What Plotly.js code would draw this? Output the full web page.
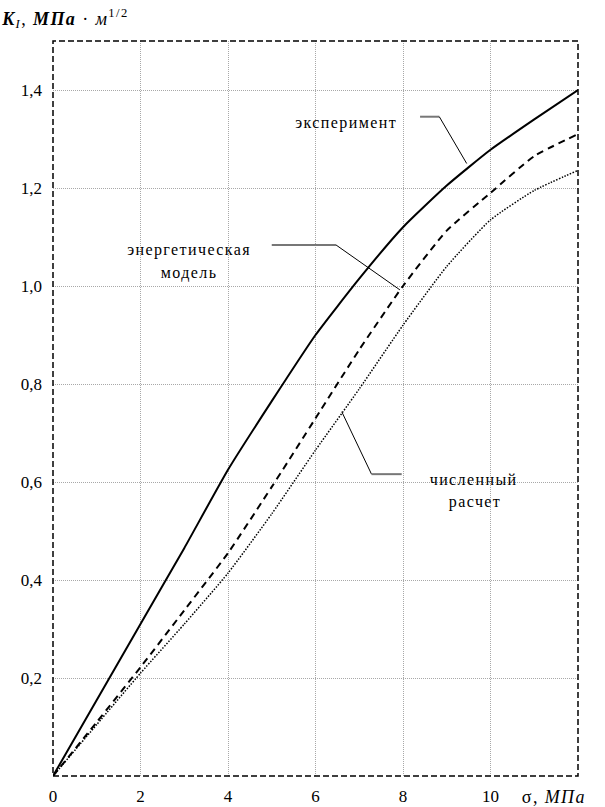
<!DOCTYPE html>
<html>
<head>
<meta charset="utf-8">
<script src="https://cdn.plot.ly/plotly-3.0.1.min.js"></script>
<style>
html,body{margin:0;padding:0;background:#fff;}
#chart{width:605px;height:807px;}
#chart .annotation-text{letter-spacing:1.4px;}
</style>
</head>
<body>
<div id="chart"></div>
<script>
// stress σ, MPa
const sigma = [0, 1, 2, 3, 4, 5, 6, 7, 8, 9, 10, 11, 12];
// K_I, MPa·m^1/2
const experiment = [0, 0.155, 0.31, 0.465, 0.625, 0.765, 0.90, 1.015, 1.12, 1.205, 1.278, 1.34, 1.40];
const energyModel = [0, 0.11, 0.222, 0.338, 0.455, 0.59, 0.73, 0.87, 1.0, 1.113, 1.19, 1.265, 1.31];
const numerical = [0, 0.105, 0.21, 0.31, 0.414, 0.535, 0.665, 0.79, 0.92, 1.04, 1.135, 1.195, 1.236];

const xTickVals = [0, 2, 4, 6, 8, 10];
const xTickText = ['0', '2', '4', '6', '8', '10'];
const yTickVals = [0.2, 0.4, 0.6, 0.8, 1.0, 1.2, 1.4];
const yTickText = ['0,2', '0,4', '0,6', '0,8', '1,0', '1,2', '1,4'];

const serif = 'Liberation Serif';

const traces = [
  {x: sigma, y: experiment, mode: 'lines', line: {color: '#000', width: 2, shape: 'spline', smoothing: 0.5}, name: 'эксперимент'},
  {x: sigma, y: energyModel, mode: 'lines', line: {color: '#000', width: 2, dash: '7px,5px', shape: 'spline', smoothing: 0.5}, name: 'энергетическая модель'},
  {x: sigma, y: numerical, mode: 'lines', line: {color: '#000', width: 1.5, dash: '1.5px,1.5px', shape: 'spline', smoothing: 0.5}, name: 'численный расчет'}
];

const lbl = (text, x, y, extra) => Object.assign({
  text: text, x: x, y: y, xref: 'x', yref: 'y', showarrow: false,
  font: {family: serif, size: 16, color: '#000'}, xanchor: 'center', yanchor: 'middle'
}, extra || {});

const leader = (x0, y0, x1, y1, c, w) => ({
  type: 'line', xref: 'x', yref: 'y', x0: x0, y0: y0, x1: x1, y1: y1,
  line: {color: c, width: w}
});

const layout = {
  width: 605, height: 807,
  margin: {l: 53, r: 27, t: 41, b: 31},
  paper_bgcolor: '#fff', plot_bgcolor: '#fff',
  showlegend: false,
  font: {family: serif, color: '#000'},
  xaxis: {
    range: [0, 12], tickvals: xTickVals, ticktext: xTickText,
    showgrid: true, gridcolor: '#a8a8a8', gridwidth: 1, griddash: '1px,1px',
    zeroline: false, showline: false, ticks: '',
    tickfont: {family: serif, size: 17, color: '#000'}, ticklabelstandoff: 8
  },
  yaxis: {
    range: [0, 1.5], tickvals: yTickVals, ticktext: yTickText,
    showgrid: true, gridcolor: '#a8a8a8', gridwidth: 1, griddash: '1px,1px',
    zeroline: false, showline: false, ticks: '',
    tickfont: {family: serif, size: 17, color: '#000'}, ticklabelstandoff: 10
  },
  shapes: [
    {type: 'rect', xref: 'paper', yref: 'paper', x0: 0, y0: 0, x1: 1, y1: 1,
     line: {color: '#000', width: 1.5, dash: '6px,3px'}},
    leader(8.39, 1.3455, 8.83, 1.3455, '#777', 2),
    leader(8.83, 1.3455, 9.456, 1.250, '#000', 1),
    leader(5.0, 1.0837, 6.47, 1.0837, '#777', 2),
    leader(6.47, 1.0837, 7.93, 0.992, '#000', 1),
    leader(6.6, 0.7435, 7.28, 0.616, '#000', 1),
    leader(7.28, 0.616, 7.97, 0.616, '#777', 2)
  ],
  annotations: [
    lbl('эксперимент', 6.69, 1.333),
    lbl('энергетическая', 3.11, 1.073),
    lbl('модель', 3.11, 1.027),
    lbl('численный', 9.62, 0.606),
    lbl('расчет', 9.65, 0.560),
    {text: 'σ, <i>МПа</i>', xref: 'x', yref: 'paper', x: 10.77, y: 0, yshift: -21,
     xanchor: 'left', yanchor: 'middle', showarrow: false,
     font: {family: serif, size: 18, color: '#000'}},
    {text: '<b><i>K</i></b><sub><i>I</i></sub>, <b><i>МПа</i></b> · <i>м</i><sup>1/2</sup>',
     xref: 'paper', yref: 'paper', x: -0.083, y: 1, yshift: 23,
     xanchor: 'left', yanchor: 'middle', showarrow: false,
     font: {family: serif, size: 18, color: '#000'}}
  ]
};

Plotly.newPlot('chart', traces, layout, {displayModeBar: false, staticPlot: true});
</script>
</body>
</html>
